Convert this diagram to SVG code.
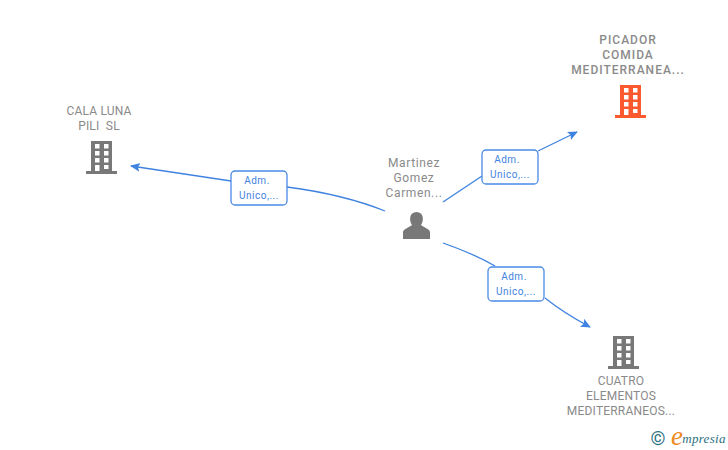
<svg xmlns="http://www.w3.org/2000/svg" width="728" height="450" viewBox="0 0 728 450">
<style>
text{font-family:Roboto,"Liberation Sans",sans-serif;text-anchor:middle;white-space:pre}
.co{font-size:12px;fill:#8a8a8a;letter-spacing:.2px}
.pe{font-size:12px;fill:#8a8a8a;letter-spacing:.6px}
.b{font-size:12px;font-weight:500;fill:#8a8a8a;letter-spacing:1px}
.l{font-size:10px;fill:#3f83e0;letter-spacing:.5px}
.lb{fill:#fff;stroke:#4a8ae6;stroke-width:1.3}
.c{fill:none;stroke:#3f83e0;stroke-width:1.3;marker-end:url(#a)}
.n{fill:none;stroke:#3f83e0;stroke-width:1.3}
</style>
<defs>
<marker id="a" markerWidth="12" markerHeight="10" refX="9" refY="4.5" orient="auto" markerUnits="userSpaceOnUse"><path d="M0 0L10 4.500L0 9L2 4.500Z" fill="#3f83e0"/></marker>
<g id="bld"><path fill-rule="evenodd" d="M5 0H26V30H31V33H0V30H5ZM9 3V7.500H13.500V3ZM18 3V7.500H22.500V3ZM9 10V14.500H13.500V10ZM18 10V14.500H22.500V10ZM9 17V21.500H13.500V17ZM18 17V21.500H22.500V17ZM18 24V28H22.500V24ZM9 24V30H13.500V24Z"/></g>
</defs>
<g id="connectors">
<path class="c" d="M385 211C350 197 310 190 287 187M231 181L131 166"/>
<path class="n" d="M443 202L482 176"/>
<path class="c" d="M538 151L577 132"/>
<path class="n" d="M443 243C460 249 478 256 495 266"/>
<path class="c" d="M545 298C560 310 575 319 590 327"/>
</g>
<g id="n-picador">
<text class="b" x="628" y="44">PICADOR</text><text class="b" x="628" y="59">COMIDA</text><text class="b" x="628" y="74">MEDITERRANEA...</text>
<use href="#bld" x="615" y="85" fill="#fa5a2e"/>
</g>
<g id="n-cala">
<text class="co" x="99" y="115">CALA LUNA</text><text class="co" x="99" y="130">PILI  SL</text>
<use href="#bld" x="86" y="141" fill="#787878"/>
</g>
<g id="n-cuatro">
<use href="#bld" x="608" y="336" fill="#787878"/>
<text class="co" x="621" y="385">CUATRO</text><text class="co" x="621" y="400">ELEMENTOS</text><text class="co" x="621" y="415">MEDITERRANEOS...</text>
</g>
<g id="n-martinez">
<text class="pe" x="414" y="167">Martinez</text><text class="pe" x="414" y="182">Gomez</text><text class="pe" x="414" y="197">Carmen...</text>
<path fill="#787878" d="M403 239V232C403 229 410 227 412 225C409 221 409 212 416.500 212C424 212 424 221 421 225C423 227 430 229 430 232V239Z"/>
</g>
<g id="l-cala"><rect class="lb" x="231" y="171" width="56" height="34" rx="4"/><text class="l" x="257" y="184">Adm.</text><text class="l" x="259" y="199">Unico,...</text></g>
<g id="l-picador"><rect class="lb" x="482" y="150" width="56" height="34" rx="4"/><text class="l" x="507" y="163">Adm.</text><text class="l" x="510" y="178">Unico,...</text></g>
<g id="l-cuatro"><rect class="lb" x="488" y="267" width="56" height="34" rx="4"/><text class="l" x="514" y="280">Adm.</text><text class="l" x="516" y="295">Unico,...</text></g>
<g id="logo">
<text x="658" y="445" style="font-size:19px;fill:#2a6f80">©</text>
<text x="677" y="445" style="font-size:27px;font-style:italic;fill:#f08a24;font-family:'Liberation Serif',serif">e</text>
<text x="704" y="443" style="font-size:13px;font-style:italic;fill:#2a6f80;font-family:'Liberation Serif',serif;letter-spacing:.3px">mpresia</text>
</g>
</svg>
